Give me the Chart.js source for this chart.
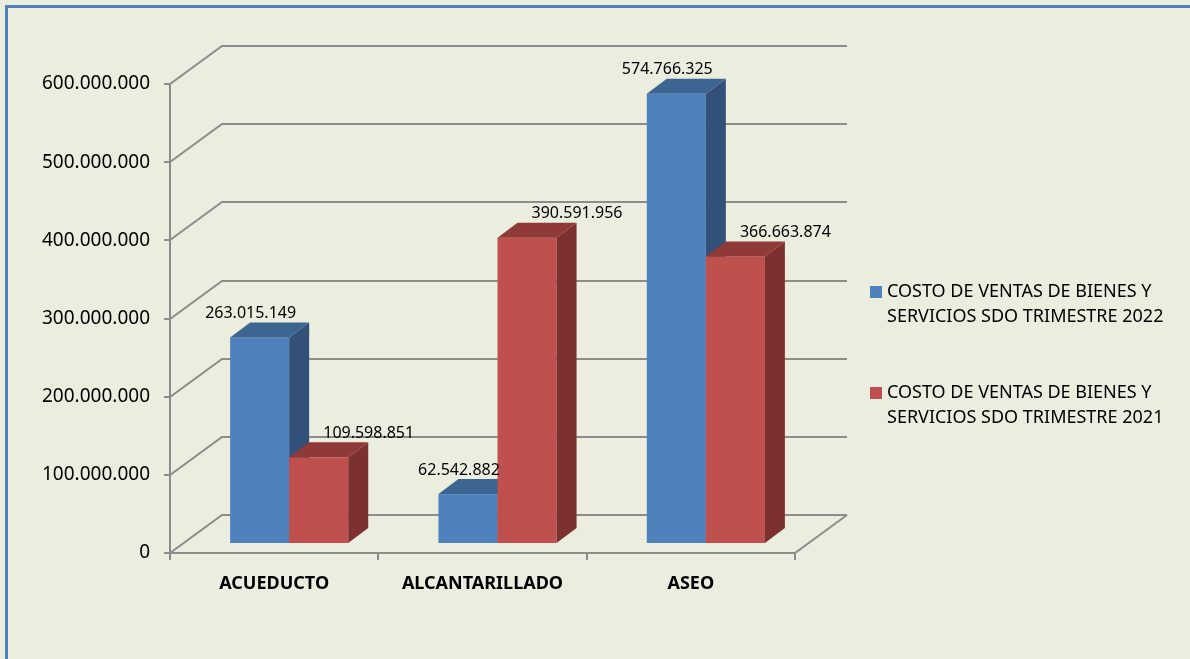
<!DOCTYPE html>
<html>
<head>
<meta charset="utf-8">
<script src="https://cdn.jsdelivr.net/npm/chart.js@4.4.1/dist/chart.umd.min.js"></script>
<style>
    html, body { margin: 0; padding: 0; background: #ebeedf; }
    canvas { display: block; }
</style>
</head>
<body>
<canvas id="myChart" width="1190" height="659"></canvas>
<script>
// data
var categories = ['ACUEDUCTO', 'ALCANTARILLADO', 'ASEO'];
var series2022Lines = ['COSTO DE VENTAS DE BIENES Y', 'SERVICIOS SDO TRIMESTRE 2022'];
var series2021Lines = ['COSTO DE VENTAS DE BIENES Y', 'SERVICIOS SDO TRIMESTRE 2021'];
var values2022 = [263015149, 62542882, 574766325];
var values2021 = [109598851, 390591956, 366663874];
var yMax = 600000000;
var yStep = 100000000;

// 3d look
var DEPTH_X = 52, DEPTH_Y = -38;
var BAR_X = 15, BAR_Y = -10, BAR_DX = 20, BAR_DY = -15;
var frontColors = ['#4f81bd', '#c0504d'];
var sideColors = ['#325078', '#7c302f'];
var topColors = ['#3d6591', '#8f3a38'];
var labelShift = [-9, 50];

function fmt(v) {
    return String(Math.round(v)).replace(/\B(?=(\d{3})+(?!\d))/g, '.');
}

var box3d = {
    id: 'box3d',
    beforeDraw: function(chart) {
        var ctx = chart.ctx;
        ctx.save();
        ctx.fillStyle = '#ebeedf';
        ctx.fillRect(0, 0, chart.width, chart.height);
        ctx.fillStyle = '#4f81bd';
        ctx.fillRect(5, 5, chart.width - 5, 3);
        ctx.fillRect(5, 5, 3, chart.height - 5);
        ctx.restore();
    },
    beforeDatasetsDraw: function(chart) {
        var ctx = chart.ctx, a = chart.chartArea;
        var ys = chart.scales.y, xs = chart.scales.x;
        ctx.save();
        ctx.strokeStyle = '#8c8c8c';
        ctx.lineWidth = 2;

        // back wall + side wall lines
        ys.ticks.forEach(function(t) {
            var py = Math.round(ys.getPixelForValue(t.value));
            ctx.beginPath();
            ctx.moveTo(a.left - 6, py);
            ctx.lineTo(a.left, py);
            ctx.lineTo(a.left + DEPTH_X, py + DEPTH_Y);
            ctx.lineTo(a.right + DEPTH_X, py + DEPTH_Y);
            ctx.stroke();
        });
        ctx.beginPath();
        ctx.moveTo(a.left, a.top);
        ctx.lineTo(a.left, a.bottom);
        ctx.stroke();

        // floor
        ctx.beginPath();
        ctx.moveTo(a.left, a.bottom);
        ctx.lineTo(a.right, a.bottom);
        ctx.lineTo(a.right + DEPTH_X, a.bottom + DEPTH_Y);
        ctx.stroke();
        for (var i = 0; i <= categories.length; i++) {
            var px = Math.round(xs.getPixelForValue(i - 0.5));
            ctx.beginPath();
            ctx.moveTo(px, a.bottom);
            ctx.lineTo(px, a.bottom + 7);
            ctx.stroke();
        }

        // bars
        var metas = [chart.getDatasetMeta(0), chart.getDatasetMeta(1)];
        for (var j = 0; j < categories.length; j++) {
            for (var d = 0; d < metas.length; d++) {
                var el = metas[d].data[j];
                var l = el.x - el.width / 2 + BAR_X;
                var r = el.x + el.width / 2 + BAR_X;
                var t = el.y + BAR_Y;
                var b = el.base + BAR_Y;
                ctx.fillStyle = frontColors[d];
                ctx.fillRect(l, t, r - l, b - t);
                ctx.fillStyle = sideColors[d];
                ctx.beginPath();
                ctx.moveTo(r, t);
                ctx.lineTo(r + BAR_DX, t + BAR_DY);
                ctx.lineTo(r + BAR_DX, b + BAR_DY);
                ctx.lineTo(r, b);
                ctx.closePath();
                ctx.fill();
                ctx.fillStyle = topColors[d];
                ctx.beginPath();
                ctx.moveTo(l, t);
                ctx.lineTo(l + BAR_DX, t + BAR_DY);
                ctx.lineTo(r + BAR_DX, t + BAR_DY);
                ctx.lineTo(r, t);
                ctx.closePath();
                ctx.fill();
            }
        }

        // value labels
        ctx.fillStyle = '#000';
        ctx.font = '16px "Noto Sans"';
        ctx.textAlign = 'center';
        ctx.textBaseline = 'middle';
        metas.forEach(function(meta, d) {
            meta.data.forEach(function(el, j) {
                var v = chart.data.datasets[d].data[j];
                ctx.fillText(fmt(v), el.x + BAR_X + labelShift[d], el.y + BAR_Y - 24);
            });
        });

        // legend
        var legendLines = [series2022Lines, series2021Lines];
        ctx.font = '18px "Noto Sans"';
        ctx.textAlign = 'left';
        legendLines.forEach(function(lines, d) {
            var y0 = 292 + d * 101;
            ctx.fillStyle = frontColors[d];
            ctx.fillRect(870, y0 - 6, 12, 12);
            ctx.fillStyle = '#000';
            lines.forEach(function(txt, k) {
                ctx.fillText(txt, 887, y0 + k * 25);
            });
        });

        ctx.restore();
        return false;
    }
};

var ctx = document.getElementById('myChart').getContext('2d');
var myChart = new Chart(ctx, {
    type: 'bar',
    data: {
        labels: categories,
        datasets: [{
            label: series2022Lines.join(' '),
            data: values2022,
            backgroundColor: frontColors[0]
        }, {
            label: series2021Lines.join(' '),
            data: values2021,
            backgroundColor: frontColors[1]
        }]
    },
    options: {
        responsive: false,
        animation: false,
        categoryPercentage: 0.567,
        barPercentage: 1,
        plugins: {
            legend: { display: false },
            tooltip: { enabled: false }
        },
        layout: {
            padding: { left: 0, top: 84, right: 395, bottom: 0 }
        },
        scales: {
            x: {
                grid: { display: false, drawTicks: false },
                border: { display: false },
                ticks: {
                    color: '#000',
                    font: { family: 'Noto Sans', size: 18, weight: 'bold' },
                    padding: 20,
                    maxRotation: 0
                },
                afterFit: function(s) { s.height = 106; }
            },
            y: {
                min: 0,
                max: yMax,
                grid: { display: false, drawTicks: false },
                border: { display: false },
                ticks: {
                    stepSize: yStep,
                    color: '#000',
                    font: { family: 'Noto Sans', size: 19 },
                    padding: 20,
                    callback: function(v) { return fmt(v); }
                },
                afterFit: function(s) { s.width = 170; }
            }
        }
    },
    plugins: [box3d]
});
</script>
</body>
</html>
